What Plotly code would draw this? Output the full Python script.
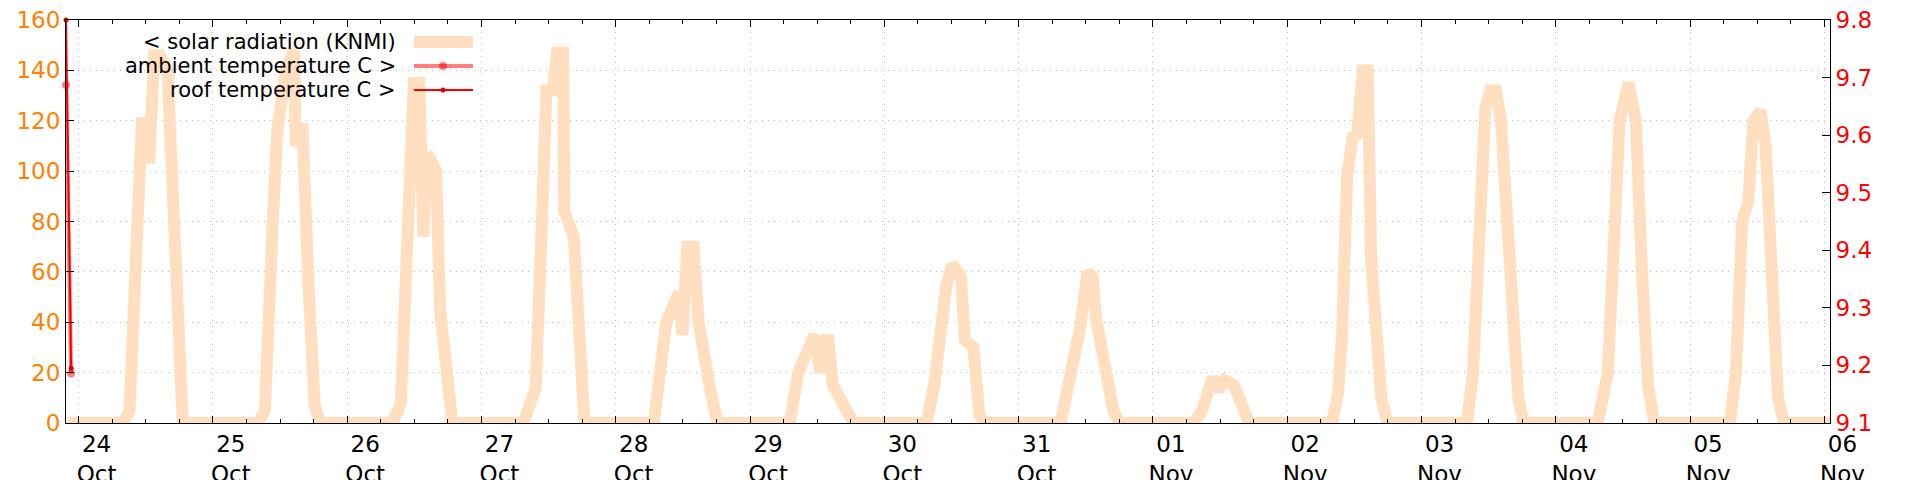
import pandas as pd
import plotly.graph_objects as go

# ---------------- data ----------------
day_dates = ["2023-10-24", "2023-10-25", "2023-10-26", "2023-10-27", "2023-10-28",
             "2023-10-29", "2023-10-30", "2023-10-31", "2023-11-01", "2023-11-02",
             "2023-11-03", "2023-11-04", "2023-11-05"]

# hour-of-day of each vertex, per day
solar_hours = [
    [8.0, 9.1, 11.3, 12.0, 12.6, 13.5, 14.5, 15.9, 16.9, 17.8, 18.6],
    [8.1, 9.3, 10.7, 11.5, 13.0, 14.5, 14.8, 16.0, 17.1, 18.2, 19.2],
    [8.1, 9.6, 10.8, 11.9, 12.9, 13.6, 14.3, 15.9, 16.6, 17.8, 18.8],
    [7.5, 9.7, 10.8, 11.6, 12.7, 13.5, 14.6, 14.8, 16.5, 17.6, 18.4],
    [6.8, 9.0, 11.3, 11.9, 12.8, 13.9, 14.8, 15.8, 17.0, 18.2],
    [7.1, 8.6, 9.7, 11.5, 12.6, 13.9, 14.8, 15.9, 17.0, 18.5],
    [7.6, 8.9, 10.0, 11.1, 12.2, 13.7, 14.4, 15.9, 17.0, 18.1],
    [7.5, 8.8, 10.1, 11.0, 12.3, 13.2, 13.8, 15.3, 16.9, 18.0],
    [7.3, 8.8, 10.6, 11.7, 12.8, 14.5, 16.1, 17.2],
    [8.0, 9.1, 9.8, 10.7, 11.8, 12.4, 13.5, 14.4, 15.0, 16.1, 16.8, 17.9],
    [8.1, 9.2, 10.1, 11.4, 12.3, 13.3, 14.2, 15.1, 16.4, 17.3, 18.2],
    [7.5, 9.3, 10.1, 11.4, 13.0, 14.3, 15.4, 16.5, 17.6],
    [7.1, 8.2, 9.3, 10.4, 11.3, 12.6, 13.5, 14.6, 15.7, 16.8],
]
# solar radiation values (KNMI) at those vertices
solar_vals = [
    [0, 5, 119, 119, 103, 146, 146, 140, 80, 25, 0],
    [0, 5, 80, 116, 140, 148, 110, 119, 54, 7, 0],
    [0, 8, 80, 135, 135, 74, 107, 100, 45, 15, 0],
    [0, 14, 80, 132, 132, 147, 147, 84, 74, 20, 0],
    [0, 40, 52, 35, 70, 70, 40, 25, 12, 0],
    [0, 20, 25, 35, 20, 35, 15, 10, 5, 0],
    [0, 15, 35, 55, 63, 58, 33, 30, 3, 0],
    [0, 15, 25, 38, 60, 58, 42, 25, 5, 0],
    [0, 5, 18, 13, 17, 15, 6, 0],
    [0, 12, 35, 98, 115, 113, 140, 140, 65, 35, 10, 0],
    [0, 20, 75, 125, 132, 132, 120, 90, 40, 10, 0],
    [0, 20, 60, 120, 135, 120, 60, 15, 0],
    [0, 20, 80, 88, 120, 124, 110, 60, 10, 0],
]
solar_start = "2023-10-23 22:00"
solar_end = "2023-11-06 01:00"

temp_times = ["2023-10-23 21:45", "2023-10-23 22:40"]
ambient_temp = [9.687, 9.186]
roof_temp = [9.800, 9.195]

y_left_ticks = [0, 20, 40, 60, 80, 100, 120, 140, 160]
y_right_ticks = [9.1, 9.2, 9.3, 9.4, 9.5, 9.6, 9.7, 9.8]
x_range = ["2023-10-23 21:45", "2023-11-06 01:00"]

legend_labels = ["< solar radiation (KNMI)", "ambient temperature C >", "roof temperature C >"]

# ---------------- build series ----------------
sx = [pd.Timestamp(solar_start)]
sy = [0]
for d, hrs, vals in zip(day_dates, solar_hours, solar_vals):
    base = pd.Timestamp(d)
    for h, v in zip(hrs, vals):
        sx.append(base + pd.Timedelta(hours=h))
        sy.append(v)
sx.append(pd.Timestamp(solar_end))
sy.append(0)

SOLAR = "#FFDFBF"
AMB = "rgba(255,0,0,0.5)"
ROOF = "#FF0000"
FONT = "DejaVu Sans"

fig = go.Figure()
fig.add_trace(go.Scatter(x=sx, y=sy, mode="lines", line=dict(color=SOLAR, width=12),
                         cliponaxis=False, showlegend=False, yaxis="y"))
fig.add_trace(go.Scatter(x=pd.to_datetime(temp_times), y=ambient_temp, mode="lines+markers",
                         line=dict(color=AMB, width=4), marker=dict(color=AMB, size=8),
                         cliponaxis=False, showlegend=False, yaxis="y2"))
fig.add_trace(go.Scatter(x=pd.to_datetime(temp_times), y=roof_temp, mode="lines+markers",
                         line=dict(color=ROOF, width=2), marker=dict(color="#E00000", size=5),
                         cliponaxis=False, showlegend=False, yaxis="y2"))

GRID = "#b8b8b8"
fig.update_layout(
    width=1920, height=480,
    margin=dict(l=66, r=90, t=20, b=57, autoexpand=False),
    paper_bgcolor="white", plot_bgcolor="white",
    font=dict(family=FONT, size=23, color="black"),
    showlegend=False,
    xaxis=dict(
        type="date", range=x_range,
        showline=True, linecolor="black", linewidth=1, mirror="ticks",
        ticks="inside", ticklen=7, tickwidth=1, tickcolor="black",
        dtick=86400000, tick0="2023-10-24", tickformat="%d<br>%b",
        tickfont=dict(family=FONT, size=23, color="black"),
        ticklabelshift=18, ticklabelstandoff=0,
        showgrid=True, gridcolor=GRID, griddash="1px,5px", gridwidth=1,
        zeroline=False,
        minor=dict(dtick=6 * 3600000, ticks="inside", ticklen=4, tickcolor="black", showgrid=False),
    ),
    yaxis=dict(
        range=[0, 160], tickvals=y_left_ticks,
        showline=True, linecolor="black", linewidth=1,
        ticks="inside", ticklen=8, tickcolor="black",
        tickfont=dict(family=FONT, size=23, color="#FF8000"),
        showgrid=True, gridcolor=GRID, griddash="1px,5px", gridwidth=1,
        zeroline=False,
    ),
    yaxis2=dict(
        range=[9.1, 9.8], tickvals=y_right_ticks, tickformat=".1f",
        overlaying="y", side="right",
        showline=True, linecolor="black", linewidth=1,
        ticks="inside", ticklen=8, tickcolor="black",
        tickfont=dict(family=FONT, size=23, color="#FF0000"),
        showgrid=False, zeroline=False,
    ),
)

# legend box (covers grid only) and key entries
PW = 1920 - 66 - 90
PH = 480 - 20 - 57
def px_x(p):
    return (p - 66) / PW
def px_y(p):
    return (480 - 57 - p) / PH

fig.add_shape(type="rect", xref="paper", yref="paper", x0=0, x1=px_x(485), y0=px_y(104), y1=1,
              fillcolor="white", line=dict(width=0), layer="between")

rows = [42, 66, 90]
styles = [dict(color=SOLAR, width=12), dict(color=AMB, width=4), dict(color=ROOF, width=2)]
dots = [None, (AMB, 8), ("#E00000", 5)]
for lab, r, st, dt in zip(legend_labels, rows, styles, dots):
    fig.add_annotation(text=lab, xref="paper", yref="paper", x=px_x(398), y=px_y(r),
                       xanchor="right", yanchor="middle", showarrow=False,
                       font=dict(family=FONT, size=21, color="black"))
    fig.add_shape(type="line", xref="paper", yref="paper", x0=px_x(414), x1=px_x(473),
                  y0=px_y(r), y1=px_y(r), line=st)
    if dt:
        fig.add_shape(type="circle", xref="paper", yref="paper", xsizemode="pixel", ysizemode="pixel",
                      xanchor=px_x(443), yanchor=px_y(r), x0=-dt[1] / 2, x1=dt[1] / 2,
                      y0=-dt[1] / 2, y1=dt[1] / 2, fillcolor=dt[0], line=dict(width=0))

fig.write_html("out.html",
               config={"displayModeBar": False, "staticPlot": True},
               post_script="document.body.style.margin='0';document.body.style.overflow='hidden';")
